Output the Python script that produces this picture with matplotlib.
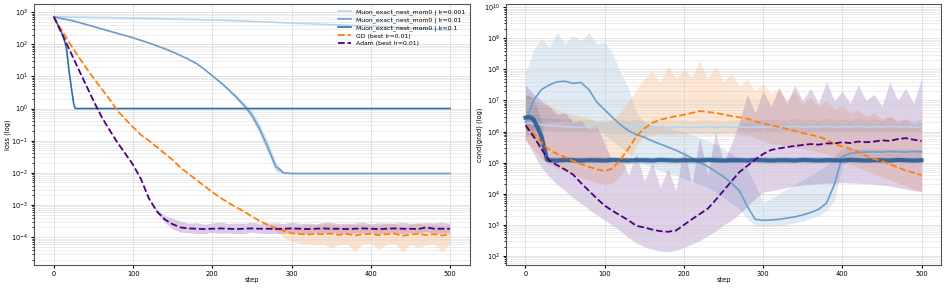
import numpy as np
import matplotlib
matplotlib.use("Agg")
import matplotlib.pyplot as plt

# ---------------- data (log10 values) ----------------
steps = np.arange(0, 501, 10)

labels = ["Muon_exact_nest_mom0 | lr=0.001", "Muon_exact_nest_mom0 | lr=0.01",
          "Muon_exact_nest_mom0 | lr=0.1", "GD (best lr=0.01)", "Adam (best lr=0.01)"]
colors = ["#b9d4ea", "#6b9ecb", "#2f6ea6", "#ff7f0e", "#4b0082"]

# left panel: loss
loss_muon_001 = [2.85, 2.85, 2.84, 2.84, 2.84, 2.83, 2.83, 2.83, 2.82, 2.82,
                 2.81, 2.81, 2.80, 2.80, 2.79, 2.78, 2.78, 2.77, 2.77, 2.76,
                 2.75, 2.75, 2.74, 2.73, 2.72, 2.71, 2.70, 2.69, 2.68, 2.67,
                 2.66, 2.65, 2.64, 2.63, 2.62, 2.61, 2.60, 2.59, 2.58, 2.57,
                 2.56, 2.55, 2.54, 2.53, 2.51, 2.50, 2.49, 2.48, 2.47, 2.45, 2.44]
loss_muon_01 = [2.85, 2.80, 2.75, 2.69, 2.62, 2.55, 2.48, 2.41, 2.34, 2.27,
                2.20, 2.12, 2.04, 1.95, 1.86, 1.76, 1.65, 1.53, 1.40, 1.22,
                1.02, 0.82, 0.60, 0.36, 0.10, -0.20, -0.65, -1.20, -1.80, -2.00,
                -2.02, -2.02, -2.02, -2.02, -2.02, -2.02, -2.02, -2.02, -2.02, -2.02,
                -2.02, -2.02, -2.02, -2.02, -2.02, -2.02, -2.02, -2.02, -2.02, -2.02, -2.02]
loss_muon_01_spread = [0.01] * 20 + [0.03, 0.04, 0.05, 0.07, 0.09, 0.12, 0.15, 0.18, 0.15, 0.03] + [0.01] * 21
steps_muon_1 = [0, 6, 12, 16, 19, 22, 25, 27] + list(range(30, 501, 10))
loss_muon_1 = [2.85, 2.55, 2.25, 1.85, 1.20, 0.65, 0.15, 0.00] + [0.00] * 48
loss_gd = [2.85, 2.43, 2.03, 1.65, 1.29, 0.95, 0.62, 0.30, -0.06, -0.33,
           -0.58, -0.82, -1.00, -1.20, -1.40, -1.60, -1.84, -2.03, -2.22, -2.41,
           -2.60, -2.77, -2.93, -3.07, -3.20, -3.36, -3.50, -3.62, -3.72, -3.80,
           -3.88, -3.90, -3.92, -3.90, -3.91, -3.89, -3.93, -3.90, -3.95, -3.91,
           -3.90, -3.94, -3.91, -3.89, -3.96, -3.92, -3.90, -3.94, -3.91, -3.95, -3.92]
loss_gd_lo = [0.02] * 28 + [0.10, 0.20, 0.25, 0.30, 0.28, 0.35, 0.30, 0.45, 0.30, 0.32, 0.50, 0.30,
                            0.30, 0.45, 0.32, 0.30, 0.50, 0.30, 0.42, 0.30, 0.30, 0.50, 0.30]
loss_gd_hi = [0.02] * 28 + [0.08, 0.12, 0.22, 0.25, 0.30, 0.28, 0.32, 0.30, 0.28, 0.30, 0.33, 0.30,
                            0.28, 0.30, 0.32, 0.30, 0.28, 0.30, 0.33, 0.30, 0.28, 0.30, 0.30]
loss_adam = [2.85, 2.33, 1.81, 1.28, 0.76, 0.24, -0.25, -0.66, -1.05, -1.40,
             -1.75, -2.20, -2.80, -3.20, -3.45, -3.60, -3.70, -3.73, -3.74, -3.75,
             -3.74, -3.73, -3.74, -3.75, -3.74, -3.73, -3.74, -3.74, -3.75, -3.74,
             -3.73, -3.74, -3.75, -3.74, -3.73, -3.74, -3.74, -3.75, -3.74, -3.73,
             -3.74, -3.75, -3.74, -3.73, -3.74, -3.74, -3.75, -3.70, -3.74, -3.74, -3.74]
loss_adam_lo = [0.02] * 13 + [0.05, 0.10, 0.14, 0.15, 0.13, 0.15, 0.14, 0.12, 0.15, 0.13, 0.14,
                              0.15, 0.12, 0.14, 0.15, 0.13, 0.14, 0.12, 0.15, 0.14, 0.13, 0.15,
                              0.12, 0.14, 0.15, 0.13, 0.14, 0.12, 0.15, 0.13, 0.14, 0.15, 0.12,
                              0.14, 0.13, 0.15, 0.14, 0.13]
loss_adam_hi = [0.02] * 13 + [0.08, 0.12, 0.18, 0.20, 0.16, 0.19, 0.15, 0.18, 0.20, 0.16, 0.19,
                              0.17, 0.20, 0.15, 0.18, 0.19, 0.16, 0.20, 0.17, 0.18, 0.15, 0.19,
                              0.20, 0.16, 0.18, 0.17, 0.20, 0.15, 0.19, 0.18, 0.16, 0.20, 0.17,
                              0.19, 0.15, 0.18, 0.20, 0.17]

# right panel: cond(grad)
cond_muon_001 = [6.30, 6.25, 6.22, 6.20, 6.18, 6.16, 6.15, 6.14, 6.15, 6.13,
                 6.14, 6.12, 6.13, 6.15, 6.12, 6.14, 6.13, 6.15, 6.12, 6.14,
                 6.15, 6.13, 6.14, 6.16, 6.13, 6.15, 6.14, 6.16, 6.13, 6.15,
                 6.14, 6.16, 6.13, 6.15, 6.17, 6.14, 6.16, 6.15, 6.17, 6.14,
                 6.16, 6.15, 6.17, 6.14, 6.16, 6.15, 6.17, 6.15, 6.16, 6.14, 6.16]
cond_muon_001_lo = [0.25, 0.22, 0.20, 0.18, 0.20, 0.17, 0.19, 0.18, 0.20, 0.17,
                    0.19, 0.18, 0.20, 0.17, 0.19, 0.18, 0.20, 0.17, 0.19, 0.18,
                    0.20, 0.17, 0.19, 0.18, 0.20, 0.17, 0.19, 0.18, 0.20, 0.17,
                    0.19, 0.18, 0.20, 0.17, 0.19, 0.18, 0.20, 0.17, 0.19, 0.18,
                    0.20, 0.17, 0.19, 0.18, 0.20, 0.17, 0.19, 0.18, 0.20, 0.17, 0.19]
cond_muon_001_hi = [0.35, 0.30, 0.26, 0.22, 0.25, 0.21, 0.27, 0.22, 0.25, 0.20,
                    0.26, 0.22, 0.24, 0.21, 0.27, 0.22, 0.25, 0.20, 0.26, 0.22,
                    0.24, 0.21, 0.27, 0.22, 0.25, 0.20, 0.26, 0.22, 0.24, 0.21,
                    0.27, 0.22, 0.25, 0.20, 0.26, 0.22, 0.24, 0.21, 0.27, 0.22,
                    0.25, 0.20, 0.26, 0.22, 0.24, 0.21, 0.27, 0.22, 0.25, 0.20, 0.26]
cond_muon_01 = [6.30, 7.00, 7.35, 7.50, 7.60, 7.62, 7.55, 7.58, 7.35, 6.95,
                6.70, 6.45, 6.22, 6.03, 5.90, 5.82, 5.70, 5.60, 5.50, 5.40,
                5.28, 5.15, 5.00, 4.88, 4.72, 4.55, 4.35, 4.10, 3.60, 3.18,
                3.15, 3.16, 3.18, 3.22, 3.26, 3.32, 3.40, 3.50, 3.70, 4.30,
                5.20, 5.30, 5.33, 5.34, 5.35, 5.34, 5.36, 5.35, 5.34, 5.36, 5.35]
cond_muon_01_lo = [5.90, 6.10, 6.20, 6.30, 6.30, 6.35, 6.30, 6.30, 6.20, 6.10,
                   5.90, 5.70, 5.50, 5.30, 5.10, 4.95, 4.85, 4.75, 4.65, 4.60,
                   4.50, 4.40, 4.30, 4.20, 4.05, 3.90, 3.70, 3.50, 3.20, 2.98,
                   2.95, 2.96, 2.98, 3.02, 3.06, 3.12, 3.20, 3.30, 3.45, 3.80,
                   4.90, 5.15, 5.20, 5.20, 5.20, 5.20, 5.20, 5.20, 5.20, 5.20, 5.20]
cond_muon_01_hi = [7.90, 8.60, 9.00, 8.70, 9.20, 8.80, 9.10, 8.90, 9.20, 8.80,
                   8.90, 8.50, 7.90, 7.40, 6.60, 6.30, 6.20, 6.15, 6.10, 6.05,
                   6.00, 5.90, 5.80, 5.70, 5.60, 5.45, 5.30, 5.10, 4.80, 4.30,
                   3.70, 3.85, 4.00, 4.15, 4.30, 4.45, 4.60, 4.75, 4.90, 5.20,
                   5.45, 5.45, 5.45, 5.45, 5.45, 5.45, 5.45, 5.45, 5.45, 5.45, 5.45]
steps_muon_1r = [0, 5, 10, 15, 20, 24, 27] + list(range(30, 501, 10))
cond_muon_1 = [6.45, 6.47, 6.40, 6.15, 5.85, 5.45, 5.10] + [5.08, 5.07, 5.09, 5.08, 5.07, 5.08] * 8
cond_muon_1_lo = [0.60, 0.60, 0.60, 0.55, 0.50, 0.30, 0.12] + [0.10] * 48
cond_muon_1_hi = [0.70, 0.70, 0.65, 0.60, 0.50, 0.30, 0.12] + [0.12] * 48
cond_gd = [6.22, 5.95, 5.65, 5.42, 5.28, 5.18, 5.06, 4.96, 4.87, 4.79,
           4.73, 4.82, 5.10, 5.45, 5.85, 6.10, 6.28, 6.38, 6.44, 6.50,
           6.54, 6.60, 6.66, 6.63, 6.60, 6.55, 6.50, 6.46, 6.42, 6.33,
           6.26, 6.20, 6.15, 6.09, 6.02, 5.95, 5.90, 5.84, 5.74, 5.60,
           5.52, 5.45, 5.35, 5.22, 5.12, 5.05, 4.95, 4.85, 4.75, 4.68, 4.60]
cond_gd_lo = [5.70, 5.45, 5.15, 4.95, 4.82, 4.72, 4.62, 4.52, 4.44, 4.37,
              4.30, 4.35, 4.60, 5.00, 5.55, 5.85, 5.90, 5.92, 5.90, 5.93,
              5.91, 5.94, 5.92, 5.90, 5.93, 5.91, 5.92, 5.90, 5.88, 5.80,
              5.70, 5.62, 5.58, 5.55, 5.50, 5.45, 5.40, 5.35, 5.28, 5.20,
              5.10, 4.95, 4.85, 4.75, 4.65, 4.55, 4.45, 4.35, 4.25, 4.15, 4.07]
cond_gd_hi = [7.20, 7.05, 6.90, 6.85, 6.70, 6.62, 6.55, 6.50, 6.42, 6.36,
              6.30, 6.40, 6.62, 6.95, 7.35, 7.70, 7.95, 7.60, 8.10, 7.70,
              8.00, 7.75, 8.30, 7.70, 8.10, 7.60, 7.90, 7.45, 7.70, 7.30,
              7.55, 7.20, 7.40, 7.00, 7.30, 6.90, 7.10, 6.80, 7.00, 6.70,
              6.85, 6.60, 6.70, 6.50, 6.60, 6.40, 6.50, 6.30, 6.40, 6.20, 6.30]
cond_adam = [6.20, 5.85, 5.45, 5.07, 4.92, 4.78, 4.62, 4.35, 4.10, 3.85,
             3.62, 3.45, 3.30, 3.15, 2.97, 2.92, 2.85, 2.80, 2.78, 2.82,
             3.00, 3.18, 3.35, 3.52, 3.80, 4.10, 4.40, 4.70, 4.90, 5.10,
             5.28, 5.41, 5.46, 5.50, 5.54, 5.57, 5.60, 5.58, 5.62, 5.62,
             5.66, 5.63, 5.68, 5.66, 5.68, 5.72, 5.70, 5.76, 5.79, 5.74, 5.70]
cond_adam_lo = [5.75, 5.30, 4.85, 4.55, 4.30, 4.10, 3.88, 3.70, 3.50, 3.32,
                3.16, 2.98, 2.80, 2.60, 2.42, 2.30, 2.22, 2.16, 2.14, 2.18,
                2.28, 2.38, 2.50, 2.65, 2.80, 3.00, 3.15, 3.35, 3.60, 3.85,
                4.05, 4.10, 4.15, 4.20, 4.25, 4.28, 4.30, 4.32, 4.34, 4.35,
                4.36, 4.35, 4.34, 4.32, 4.30, 4.28, 4.25, 4.20, 4.15, 4.10, 4.08]
cond_adam_hi = [7.50, 7.20, 7.00, 6.80, 6.55, 6.60, 6.30, 6.35, 6.10, 6.20,
                5.60, 5.00, 5.20, 4.60, 5.30, 4.40, 5.00, 4.20, 4.80, 4.10,
                5.50, 4.30, 5.80, 4.60, 6.00, 5.00, 5.60, 6.30, 7.20, 6.60,
                7.30, 6.80, 7.40, 6.90, 7.50, 7.00, 7.40, 6.90, 7.60, 7.00,
                7.30, 6.90, 7.50, 7.00, 7.20, 6.80, 7.60, 7.00, 7.40, 6.90, 7.70]

left_yticks = [1e-4, 1e-3, 1e-2, 1e-1, 1e0, 1e1, 1e2, 1e3]
right_yticks = [1e2, 1e3, 1e4, 1e5, 1e6, 1e7, 1e8, 1e9, 1e10]

# ---------------- plotting ----------------
plt.rcParams["font.size"] = 4.8
fig = plt.figure(figsize=(9.47, 2.90), dpi=100)
ax1 = fig.add_axes([0.036, 0.086, 0.460, 0.900])
ax2 = fig.add_axes([0.534, 0.086, 0.460, 0.900])


def band(ax, x, lo, hi, color, alpha):
    ax.fill_between(x, 10 ** np.asarray(lo), 10 ** np.asarray(hi), color=color, alpha=alpha, lw=0)


# left: loss
m001 = np.array(loss_muon_001)
ax1.plot(steps, 10 ** m001, color=colors[0], lw=1.2, label=labels[0])
m01 = np.array(loss_muon_01)
sp = np.array(loss_muon_01_spread)
band(ax1, steps, m01 - sp, m01 + sp, colors[1], 0.3)
ax1.plot(steps, 10 ** m01, color=colors[1], lw=1.2, label=labels[1])
ax1.plot(steps_muon_1, 10 ** np.array(loss_muon_1), color=colors[2], lw=1.2, label=labels[2])
gd = np.array(loss_gd)
band(ax1, steps, gd - np.array(loss_gd_lo), gd + np.array(loss_gd_hi), colors[3], 0.2)
ax1.plot(steps, 10 ** gd, color=colors[3], lw=1.3, ls="--", label=labels[3])
ad = np.array(loss_adam)
band(ax1, steps, ad - np.array(loss_adam_lo), ad + np.array(loss_adam_hi), colors[4], 0.2)
ax1.plot(steps, 10 ** ad, color=colors[4], lw=1.3, ls="--", label=labels[4])
ax1.set_yscale("log")
ax1.set_yticks(left_yticks)
ax1.set_ylim(10 ** -4.87, 10 ** 3.25)
ax1.set_ylabel("loss (log)")
ax1.legend(loc="upper right", fontsize=4.4, frameon=False, handlelength=2.1,
           borderaxespad=0.4, labelspacing=0.35)

# right: cond(grad)
c001 = np.array(cond_muon_001)
band(ax2, steps, c001 - np.array(cond_muon_001_lo), c001 + np.array(cond_muon_001_hi), colors[0], 0.35)
ax2.plot(steps, 10 ** c001, color=colors[0], lw=1.2, label=labels[0])
band(ax2, steps, cond_muon_01_lo, cond_muon_01_hi, colors[1], 0.2)
ax2.plot(steps, 10 ** np.array(cond_muon_01), color=colors[1], lw=1.2, label=labels[1])
c1 = np.array(cond_muon_1)
band(ax2, steps_muon_1r, c1 - np.array(cond_muon_1_lo), c1 + np.array(cond_muon_1_hi), colors[2], 0.2)
ax2.plot(steps_muon_1r, 10 ** c1, color="#2b5d94", lw=3.0, alpha=0.9, label=labels[2])
band(ax2, steps, cond_gd_lo, cond_gd_hi, colors[3], 0.18)
ax2.plot(steps, 10 ** np.array(cond_gd), color=colors[3], lw=1.3, ls="--", label=labels[3])
band(ax2, steps, cond_adam_lo, cond_adam_hi, colors[4], 0.18)
ax2.plot(steps, 10 ** np.array(cond_adam), color=colors[4], lw=1.3, ls="--", label=labels[4])
ax2.set_yscale("log")
ax2.set_yticks(right_yticks)
ax2.set_ylim(10 ** 1.71, 10 ** 10.1)
ax2.set_ylabel("cond(grad) (log)")

for ax in (ax1, ax2):
    ax.set_xlim(-25, 525)
    ax.set_xticks([0, 100, 200, 300, 400, 500])
    ax.set_xlabel("step")
    ax.grid(True, which="major", color="#cccccc", lw=0.6, alpha=0.6)
    ax.grid(True, which="minor", axis="y", color="#cccccc", lw=0.5, alpha=0.5)
    ax.tick_params(labelsize=4.8, length=2.2, pad=2.0)
    ax.tick_params(which="minor", length=1.3)
    for s in ax.spines.values():
        s.set_color("#555555")
    ax.yaxis.set_label_coords(-0.052, 0.5)
    ax.xaxis.set_label_coords(0.5, -0.045)

fig.savefig("out.png", dpi=100)
